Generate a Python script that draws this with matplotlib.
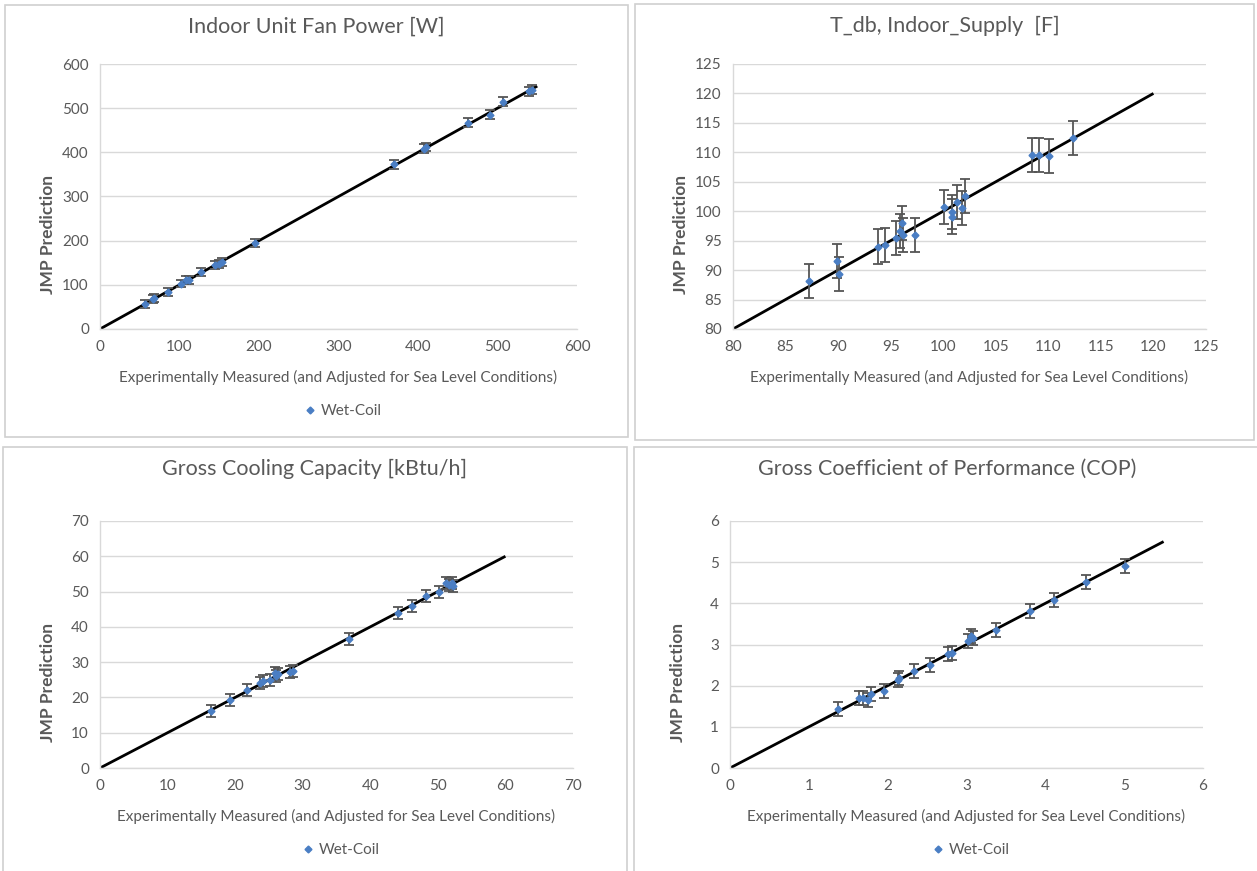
import matplotlib.pyplot as plt
from matplotlib.lines import Line2D
from matplotlib.patches import Rectangle

W, H = 1257, 871
plt.rcParams["font.family"] = ["Lato", "DejaVu Sans"]

GRAY_TEXT = "#595959"
GRID = "#D9D9D9"
BLUE = "#4A7EC4"
XLABEL = "Experimentally Measured (and Adjusted for Sea Level Conditions)"
YLABEL = "JMP Prediction"

# Indoor unit fan power [W]
fan_meas = [57, 67, 68, 85, 102, 108, 112, 127, 145, 150, 153, 195, 370, 407, 410, 463, 490, 507, 540, 543]
fan_pred = [57, 67, 70, 83, 103, 110, 112, 128, 145, 147, 152, 194, 373, 408, 412, 467, 485, 515, 538, 542]
fan_err = [9, 9, 9, 9, 9, 9, 9, 9, 9, 9, 9, 9, 10, 10, 10, 10, 10, 10, 10, 10]

# T_db indoor supply [F]
tdb_meas = [87.2, 89.9, 90.1, 93.8, 94.5, 95.5, 95.9, 96.1, 96.2, 97.3,
            100.1, 100.8, 100.8, 101.3, 101.8, 102.1, 108.4, 109.1, 110.1, 112.3]
tdb_pred = [88.1, 91.5, 89.4, 94.0, 94.2, 95.4, 96.6, 98.0, 95.9, 96.0,
            100.7, 99.9, 99.1, 101.6, 100.5, 102.6, 109.6, 109.6, 109.4, 112.4]
tdb_err = [2.9] * 20

# Gross cooling capacity [kBtu/h]
cap_meas = [16.4, 19.2, 21.7, 23.7, 24.1, 25.1, 25.9, 26.1, 26.3, 28.1,
            28.6, 36.9, 44.1, 46.1, 48.2, 50.2, 51.2, 51.7, 52.1, 52.3]
cap_pred = [16.2, 19.4, 22.2, 24.2, 24.6, 24.8, 26.9, 26.2, 26.5, 27.3,
            27.5, 36.7, 43.9, 46.0, 48.7, 49.9, 52.3, 51.9, 52.5, 51.7]
cap_err = [1.7] * 20

# Gross COP
cop_meas = [1.37, 1.64, 1.69, 1.75, 1.79, 1.95, 2.13, 2.15, 2.34, 2.54,
            2.77, 2.82, 3.02, 3.06, 3.08, 3.37, 3.80, 4.11, 4.52, 5.01]
cop_pred = [1.43, 1.69, 1.69, 1.65, 1.79, 1.88, 2.13, 2.18, 2.36, 2.51,
            2.77, 2.80, 3.09, 3.20, 3.15, 3.36, 3.81, 4.08, 4.53, 4.91]
cop_err = [0.17] * 20

panels = [
    dict(title="Indoor Unit Fan Power [W]", x=fan_meas, y=fan_pred, err=fan_err,
         lim=(0, 600), step=100, line=(0, 550), box=(5, 5, 628, 437),
         ax=(100, 64, 577, 329), legend=True),
    dict(title="T_db, Indoor_Supply  [F]", x=tdb_meas, y=tdb_pred, err=tdb_err,
         lim=(80, 125), step=5, line=(80, 120), box=(635, 4, 1254, 440),
         ax=(733, 64, 1206, 329), legend=False),
    dict(title="Gross Cooling Capacity [kBtu/h]", x=cap_meas, y=cap_pred, err=cap_err,
         lim=(0, 70), step=10, line=(0, 60), box=(3, 447, 627, 875),
         ax=(100, 521, 573, 768), legend=True),
    dict(title="Gross Coefficient of Performance (COP)", x=cop_meas, y=cop_pred, err=cop_err,
         lim=(0, 6), step=1, line=(0, 5.5), box=(634, 447, 1260, 875),
         ax=(730, 521, 1203, 768), legend=True),
]


def fx(px):
    return px / W


def fy(py):
    return 1 - py / H


fig = plt.figure(figsize=(W / 100, H / 100), dpi=100)

for p in panels:
    bx0, by0, bx1, by1 = p["box"]
    fig.patches.append(Rectangle((fx(bx0), fy(by1)), fx(bx1 - bx0), (by1 - by0) / H,
                                 transform=fig.transFigure, fill=False,
                                 edgecolor="#D0D0D0", lw=1.2))
    ax0, ay0, ax1, ay1 = p["ax"]
    ax = fig.add_axes([fx(ax0), fy(ay1), fx(ax1 - ax0), (ay1 - ay0) / H])
    lo, hi = p["lim"]
    ticks = [lo + i * p["step"] for i in range(int(round((hi - lo) / p["step"])) + 1)]
    ax.set_xlim(lo, hi)
    ax.set_ylim(lo, hi)
    ax.set_xticks(ticks)
    ax.set_yticks(ticks)
    ax.grid(axis="y", color=GRID, lw=1.0)
    ax.set_axisbelow(True)
    for s in ["top", "right"]:
        ax.spines[s].set_visible(False)
    for s in ["left", "bottom"]:
        ax.spines[s].set_color(GRID)
        ax.spines[s].set_linewidth(1.0)
    ax.tick_params(length=0, labelsize=11, labelcolor=GRAY_TEXT, pad=8)

    ax.plot(p["line"], p["line"], color="black", lw=2, zorder=2, solid_capstyle="butt")
    ax.errorbar(p["x"], p["y"], yerr=p["err"], fmt="D", ms=3.5, color=BLUE,
                ecolor="#555555", elinewidth=1.3, capsize=3.5, capthick=1.3, zorder=3)

    cx = (bx0 + bx1) / 2
    fig.text(fx(cx), fy(by0 + 22), p["title"], ha="center", va="center",
             fontsize=15.5, color=GRAY_TEXT)
    fig.text(fx((ax0 + ax1) / 2), fy(ay1 + 48), XLABEL, ha="center", va="center",
             fontsize=11, color=GRAY_TEXT)
    fig.text(fx(ax0 - 52), fy((ay0 + ay1) / 2 + 38), YLABEL, ha="center", va="center",
             rotation=90, fontsize=12.5, fontweight="bold", color=GRAY_TEXT)
    if p["legend"]:
        handle = Line2D([], [], marker="D", ms=3.5, color=BLUE, ls="none")
        ax.legend(handles=[handle], labels=["Wet-Coil"], loc="center",
                  bbox_to_anchor=(fx((ax0 + ax1) / 2 + 4), fy(ay1 + 82)),
                  bbox_transform=fig.transFigure,
                  frameon=False, fontsize=11, labelcolor=GRAY_TEXT,
                  handlelength=0.8, handletextpad=0.3)

fig.savefig("out.png", dpi=100)
